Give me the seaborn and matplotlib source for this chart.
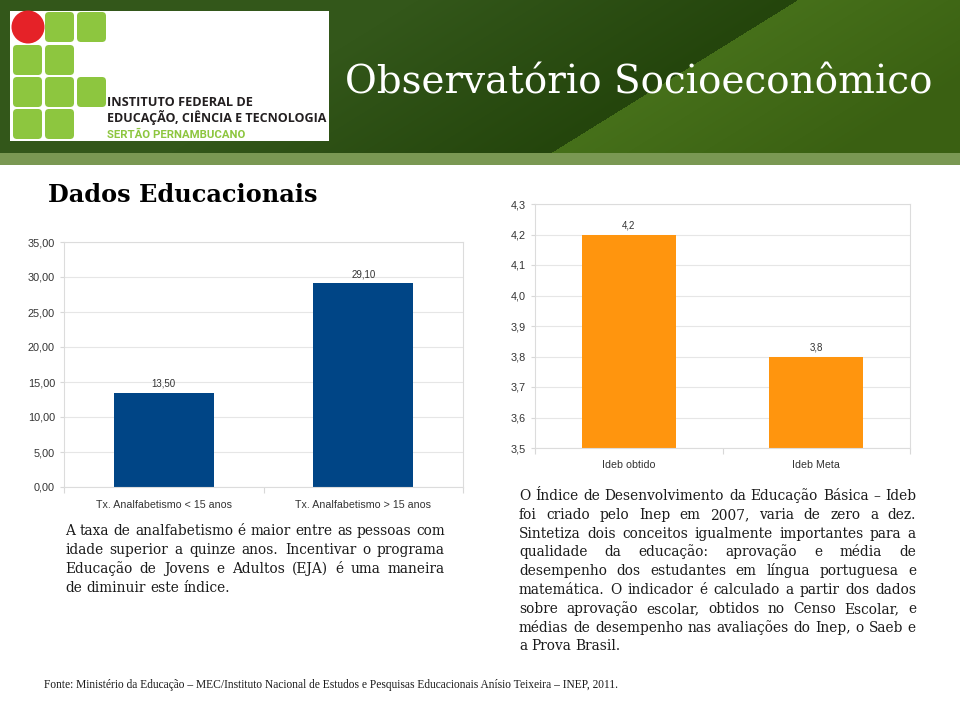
import numpy as np
import pandas as pd
import matplotlib
matplotlib.use("Agg")
import matplotlib.pyplot as plt
import seaborn as sns
from matplotlib.patches import Rectangle, FancyBboxPatch, Circle

# ---------------- data ----------------
analf_categories = ["Tx. Analfabetismo < 15 anos", "Tx. Analfabetismo > 15 anos"]
analf_values = [13.50, 29.10]
analf_ticks = [0, 5, 10, 15, 20, 25, 30, 35]

ideb_categories = ["Ideb obtido", "Ideb Meta"]
ideb_values = [4.2, 3.8]
ideb_ticks = [3.5, 3.6, 3.7, 3.8, 3.9, 4.0, 4.1, 4.2, 4.3]

title_text = "Observatório Socioeconômico"
section_text = "Dados Educacionais"
logo_lines = ["INSTITUTO FEDERAL DE", "EDUCAÇÃO, CIÊNCIA E TECNOLOGIA", "SERTÃO PERNAMBUCANO"]

left_lines = [
    "A taxa de analfabetismo é maior entre as pessoas com",
    "idade superior a quinze anos. Incentivar o programa",
    "Educação de Jovens e Adultos (EJA) é uma maneira",
    "de diminuir este índice.",
]
right_lines = [
    "O Índice de Desenvolvimento da Educação Básica – Ideb",
    "foi criado pelo Inep em 2007, varia de zero a dez.",
    "Sintetiza dois conceitos igualmente importantes para a",
    "qualidade da educação: aprovação e média de",
    "desempenho dos estudantes em língua portuguesa e",
    "matemática. O indicador é calculado a partir dos dados",
    "sobre aprovação escolar, obtidos no Censo Escolar, e",
    "médias de desempenho nas avaliações do Inep, o Saeb e",
    "a Prova Brasil.",
]
footer_text = ("Fonte: Ministério da Educação – MEC/Instituto Nacional de Estudos e "
               "Pesquisas Educacionais Anísio Teixeira – INEP, 2011.")

# ---------------- setup ----------------
sns.set_theme(style="white")
plt.rcParams["font.family"] = ["Liberation Sans", "DejaVu Sans"]

W, H = 960, 714
fig = plt.figure(figsize=(W / 100, H / 100), dpi=100)
fig.patch.set_facecolor("white")
renderer = fig.canvas.get_renderer()

bg = fig.add_axes([0, 0, 1, 1])
bg.set_xlim(0, W)
bg.set_ylim(H, 0)
bg.axis("off")

# header gradient
yy, xx = np.mgrid[0:155, 0:W].astype(float)
xl = 797 - 250 * yy / 155
d = xx - xl
c = lambda h: np.array([int(h[i:i + 2], 16) for i in (1, 3, 5)]) / 255.0
Lfar, Lnear = c("#33571a"), c("#24450c")
Rnear, Rfar = c("#46701a"), c("#3a6012")
tl = np.clip((d + 380) / 380, 0, 1)[..., None]
tr = np.clip(d / 300, 0, 1)[..., None]
left_col = Lfar * (1 - tl) + Lnear * tl
right_col = Rnear * (1 - tr) + Rfar * tr
img = np.where((d < 0)[..., None], left_col, right_col)
bg.imshow(img, extent=(0, W, 155, 0), aspect="auto", interpolation="bilinear", zorder=0)
bg.set_xlim(0, W)
bg.set_ylim(H, 0)
bg.add_patch(Rectangle((0, 153), W, 12, color="#7a9853", lw=0, zorder=1))

# logo
bg.add_patch(Rectangle((10, 11), 319, 130, color="white", lw=0, zorder=2))
green = "#8dc63f"
cols = [13, 45, 77]
rows = [12, 45, 77, 109]
layout = {0: [1, 2], 1: [0, 1], 2: [0, 1, 2], 3: [0, 1]}
for r, cs in layout.items():
    for ci in cs:
        bg.add_patch(FancyBboxPatch((cols[ci], rows[r]), 29, 30,
                                    boxstyle="round,pad=0,rounding_size=4",
                                    color=green, lw=0, zorder=3))
bg.add_patch(Circle((28, 27), 16.5, color="#e52228", lw=0, zorder=3))


def fit(x, y, s, width, **kw):
    t = bg.text(x, y, s, fontsize=10, **kw)
    w = t.get_window_extent(renderer).width
    t.set_fontsize(10 * width / w)
    return t


fit(107, 106, logo_lines[0], 145, color="#231f20", fontweight="bold",
    family="Open Sans", va="baseline", zorder=4)
fit(107, 122, logo_lines[1], 219, color="#231f20", fontweight="bold",
    family="Open Sans", va="baseline", zorder=4)
fit(107, 138, logo_lines[2], 138, color="#8dc63f", fontweight="bold",
    family="Roboto", va="baseline", zorder=4)

# title
fit(345, 93, title_text, 590, color="white", family="DejaVu Serif",
    va="baseline", zorder=4)
fit(48, 202, section_text, 270, color="black", family="DejaVu Serif",
    fontweight="bold", va="baseline", zorder=4)


# justified paragraphs
def paragraph(lines, x0, x1, y0, dy, family="DejaVu Serif"):
    probe = bg.text(0, 0, "x x", fontsize=10, family=family)
    probe2 = bg.text(0, 0, "xx", fontsize=10, family=family)
    sp10 = probe.get_window_extent(renderer).width - probe2.get_window_extent(renderer).width
    probe.remove(); probe2.remove()
    nat = []
    for ln in lines[:-1]:
        t = bg.text(0, 0, ln, fontsize=10, family=family)
        nat.append(t.get_window_extent(renderer).width)
        t.remove()
    fs = 10 * (x1 - x0) / max(nat)
    sp = sp10 * fs / 10
    for i, ln in enumerate(lines):
        y = y0 + i * dy
        words = ln.split()
        objs = [bg.text(0, y, w, fontsize=fs, family=family, color="#1a1a1a",
                        va="baseline", ha="left") for w in words]
        widths = [o.get_window_extent(renderer).width for o in objs]
        if i < len(lines) - 1 and len(words) > 1:
            gap = (x1 - x0 - sum(widths)) / (len(words) - 1)
        else:
            gap = sp
        x = x0
        for o, w in zip(objs, widths):
            o.set_x(x)
            x += w + gap


paragraph(left_lines, 65, 445, 535, 19.1)
paragraph(right_lines, 519, 916, 500, 18.8)

fit(44, 688, footer_text, 579, color="#1a1a1a", family="Liberation Serif",
    va="baseline", zorder=4)


# ---------------- charts ----------------
def style_chart(ax, ticks, labels, ylim):
    ax.set_ylim(*ylim)
    ax.set_xlim(-0.5, 1.5)
    ax.set_yticks(ticks)
    ax.set_yticklabels(labels)
    ax.yaxis.grid(True, color="#e6e6e6", lw=0.8)
    ax.set_axisbelow(True)
    for s in ax.spines.values():
        s.set_color("#dcdcdc")
        s.set_linewidth(0.8)
    ax.set_xlabel("")
    ax.set_ylabel("")
    ax.tick_params(axis="y", length=3, width=0.8, color="#d8d8d8", pad=3.5,
                   labelsize=7.8, labelcolor="#333333", left=True)
    ax.tick_params(axis="x", which="major", length=0, pad=9, labelsize=7.7,
                   labelcolor="#333333")
    ax.set_xticks([-0.5, 0.5, 1.5], minor=True)
    ax.tick_params(axis="x", which="minor", length=4, width=0.8, color="#d8d8d8",
                   bottom=True)


df1 = pd.DataFrame({"cat": analf_categories, "val": analf_values})
ax1 = fig.add_axes([64 / W, 1 - 487 / H, (463 - 64) / W, (487 - 242) / H])
sns.barplot(data=df1, x="cat", y="val", ax=ax1, color="#004586", saturation=1,
            width=0.5, edgecolor="none")
style_chart(ax1, analf_ticks, [f"{v:.2f}".replace(".", ",") for v in analf_ticks], (0, 35))
ax1.bar_label(ax1.containers[0], labels=[f"{v:.2f}".replace(".", ",") for v in analf_values],
              padding=3, fontsize=7, color="#333333")

df2 = pd.DataFrame({"cat": ideb_categories, "val": ideb_values})
ax2 = fig.add_axes([535 / W, 1 - 448 / H, (910 - 535) / W, (448 - 204) / H])
sns.barplot(data=df2, x="cat", y="val", ax=ax2, color="#ff950e", saturation=1,
            width=0.5, edgecolor="none")
style_chart(ax2, ideb_ticks, [f"{v:.1f}".replace(".", ",") for v in ideb_ticks], (3.5, 4.3))
ax2.bar_label(ax2.containers[0], labels=[f"{v:.1f}".replace(".", ",") for v in ideb_values],
              padding=3, fontsize=7, color="#333333")

fig.savefig("out.png", dpi=100)
